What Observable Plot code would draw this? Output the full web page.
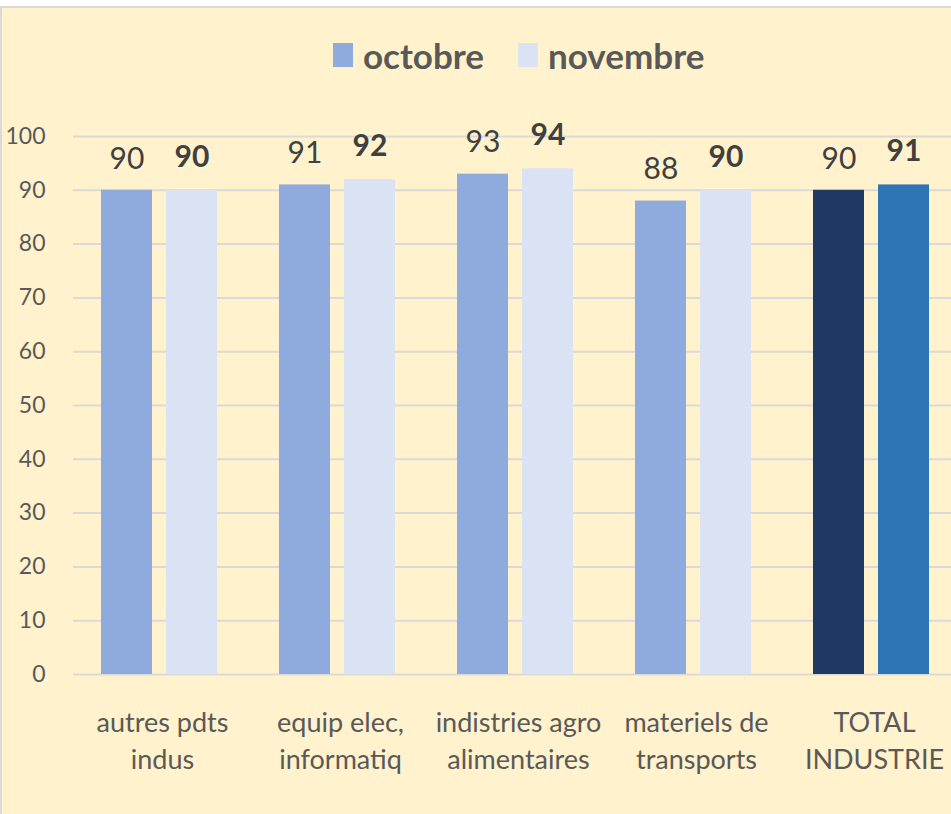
<!DOCTYPE html>
<html>
<head>
<meta charset="utf-8">
<script src="https://cdn.jsdelivr.net/npm/d3@7"></script>
<script src="https://cdn.jsdelivr.net/npm/@observablehq/plot@0.6"></script>
<style>
  html, body { margin: 0; padding: 0; background: #ffffff; }
  body { width: 951px; height: 814px; overflow: hidden; position: relative;
         font-family: Lato, "Open Sans", sans-serif; }
  #frame { position: absolute; left: 0; top: 6px; width: 951px; height: 808px; box-sizing: border-box;
           background: #FFF2CC; border-top: 2px solid #d9d9d9; border-left: 2px solid #d9d9d9; overflow: hidden; }
  #legend { position: absolute; left: 331px; top: 26px; display: flex; align-items: center; gap: 34px;
            font-weight: bold; font-size: 35px; color: #595959; }
  .item { display: flex; align-items: center; gap: 10px; }
  .sw { width: 20px; height: 24px; display: inline-block; }
  #chart { position: absolute; left: -2px; top: 82px; width: 963px; }
  #chart svg { max-width: none !important; }
</style>
</head>
<body>
<div id="frame">
  <div id="legend"></div>
  <div id="chart"></div>
</div>
<script>
const categories = ["autres pdts indus", "equip elec, informatiq", "indistries agro alimentaires", "materiels de transports", "TOTAL INDUSTRIE"];
const categoryLabels = ["autres pdts\nindus", "equip elec,\ninformatiq", "indistries agro\nalimentaires", "materiels de\ntransports", "TOTAL\nINDUSTRIE"];
const series = ["octobre", "novembre"];
const octobre = [90, 91, 93, 88, 90];
const novembre = [90, 92, 94, 90, 91];
const yTicks = [0, 10, 20, 30, 40, 50, 60, 70, 80, 90, 100];

const seriesColors = {octobre: "#8FAADC", novembre: "#DAE3F3"};
const totalColors = {octobre: "#1F3864", novembre: "#2E75B6"};

const data = [];
categories.forEach((c, i) => {
  data.push({category: c, month: "octobre", value: octobre[i]});
  data.push({category: c, month: "novembre", value: novembre[i]});
});
const fillOf = d => (d.category === "TOTAL INDUSTRIE" ? totalColors : seriesColors)[d.month];

// legend
const legend = document.getElementById("legend");
series.forEach(s => {
  const it = document.createElement("div");
  it.className = "item";
  const sw = document.createElement("span");
  sw.className = "sw";
  sw.style.background = seriesColors[s];
  const t = document.createElement("span");
  t.textContent = s;
  it.appendChild(sw); it.appendChild(t);
  legend.appendChild(it);
});

const font = 'Lato, "Open Sans", sans-serif';
const chart = Plot.plot({
  width: 963,
  height: 724,
  marginLeft: 72,
  marginRight: 0,
  marginTop: 46,
  marginBottom: 140,
  style: {background: "transparent", fontFamily: font, color: "#595959", overflow: "visible", maxWidth: "none"},
  fx: {domain: categories, axis: null, paddingInner: 0, paddingOuter: 0},
  x: {domain: series, axis: null, paddingInner: 0.212, paddingOuter: 0.458, align: 0.45},
  y: {domain: [0, 100], axis: null},
  color: {type: "identity"},
  marks: [
    Plot.ruleY(yTicks, {stroke: "#d9d9d9", strokeWidth: 2}),
    Plot.axisY({ticks: yTicks, tickSize: 0, tickPadding: 28, fontSize: 23, label: null, fill: "#595959", facetAnchor: "left"}),
    Plot.barY(data, {fx: "category", x: "month", y: "value", fill: fillOf}),
    Plot.text(data.filter(d => d.month === "octobre"), {fx: "category", x: "month", y: "value", text: d => String(d.value),
      lineAnchor: "top", dy: -43, fontSize: 30, fill: "#404040"}),
    Plot.text(data.filter(d => d.month === "novembre"), {fx: "category", x: "month", y: "value", text: d => String(d.value),
      lineAnchor: "top", dy: -45, fontSize: 30, fontWeight: "bold", fill: "#404040"}),
    Plot.text(categories, {fx: d => d, text: (d, i) => categoryLabels[i], frameAnchor: "bottom", lineAnchor: "top",
      dy: 31, fontSize: 27, lineHeight: 1.38, fill: "#595959"})
  ]
});
document.getElementById("chart").appendChild(chart);
</script>
</body>
</html>
